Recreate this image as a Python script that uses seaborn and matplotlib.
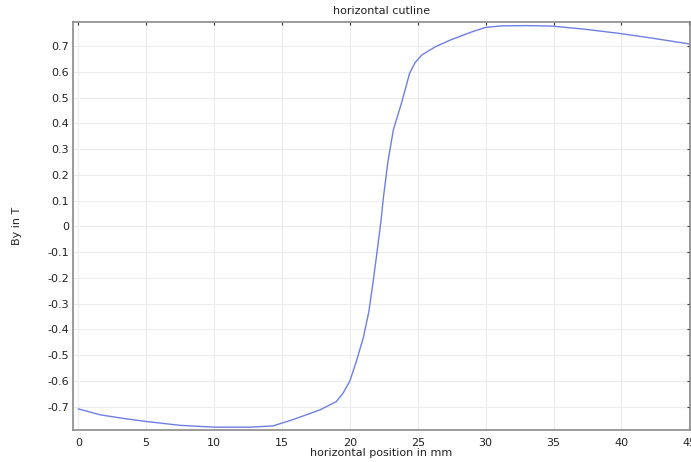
import pandas as pd
import seaborn as sns
import matplotlib.pyplot as plt
import numpy as np

# horizontal position (mm) and By (T)
pos_mm = [0, 1.6, 3.3, 5.0, 7.5, 10.0, 12.7, 14.35, 15.8, 17.8, 19.0, 19.5,
          20.0, 20.5, 21.0, 21.4, 21.7, 22.0, 22.3, 22.45, 22.8, 23.2, 23.8,
          24.4, 24.8, 25.3, 26.3, 27.4, 29.0, 30.0, 31.2, 33.0, 34.9, 37.3,
          39.8, 42.3, 45.1]
by_T = [-0.708, -0.731, -0.745, -0.757, -0.772, -0.779, -0.779, -0.774, -0.75,
        -0.712, -0.68, -0.647, -0.60, -0.52, -0.43, -0.33, -0.22, -0.10, 0.025,
        0.103, 0.25, 0.374, 0.478, 0.594, 0.635, 0.665, 0.697, 0.723, 0.755,
        0.772, 0.778, 0.779, 0.777, 0.765, 0.749, 0.73, 0.707]

x_ticks = list(range(0, 50, 5))
y_ticks = [-0.7, -0.6, -0.5, -0.4, -0.3, -0.2, -0.1, 0, 0.1, 0.2, 0.3, 0.4, 0.5, 0.6, 0.7]
y_labels = ['0' if v == 0 else f'{v:.1f}' for v in y_ticks]

df = pd.DataFrame({'x': pos_mm, 'By': by_T})

sns.set_style('white')
plt.rcParams['font.family'] = ['DejaVu Sans']

fig = plt.figure(figsize=(6.91, 4.62), dpi=100)
ax = fig.add_axes([0.1056, 0.0693, 0.893, 0.8831])

sns.lineplot(data=df, x='x', y='By', sort=False, color='#6e7fe3', linewidth=1.0, ax=ax)

ax.set_xlim(-0.39, 45.05)
ax.set_ylim(-0.79, 0.793)
ax.set_xticks(x_ticks)
ax.set_yticks(y_ticks)
ax.set_yticklabels(y_labels)
ax.grid(True, color='#ececec', linewidth=0.8)
ax.tick_params(axis='both', labelsize=8, colors='#333333', length=2.5, width=0.8,
               direction='in', top=True, right=True)
ax.tick_params(axis='x', pad=6)
ax.tick_params(axis='y', pad=3)
ax.tick_params(axis='both', labelcolor='#222222')
for s in ax.spines.values():
    s.set_color('#8a8a8a')
    s.set_linewidth(1.2)

ax.set_title('horizontal cutline', fontsize=8, pad=6, color='#222222')
ax.set_xlabel('horizontal position in mm', fontsize=8, labelpad=0, color='#222222')
ax.set_ylabel('By in T', fontsize=8, labelpad=18, color='#222222')

fig.savefig('out.png', dpi=100)
